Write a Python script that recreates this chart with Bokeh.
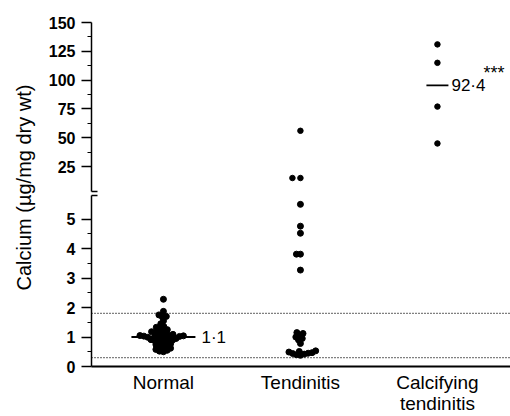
import math
from bokeh.plotting import figure
from bokeh.models import Range1d, FixedTicker, LinearAxis, Span
from bokeh.layouts import row, column
from bokeh.embed import file_html
from bokeh.resources import INLINE
from bokeh.core.properties import value

# ---------------- data ----------------
categories = ["Normal", "Tendinitis", "Calcifying\ntendinitis"]
normal_values = [2.28, 1.87, 1.75, 1.70, 1.68, 1.55, 1.45, 1.36, 1.33, 1.30,
                 1.25, 1.22, 1.18, 1.15, 1.13, 1.11, 1.09, 1.07, 1.05, 1.04,
                 1.03, 1.02, 1.01, 1.00, 0.99, 0.98, 0.97, 0.95, 0.93, 0.91,
                 0.89, 0.87, 0.85, 0.83, 0.80, 0.77, 0.74, 0.71, 0.68, 0.65,
                 0.62, 0.58, 0.55, 0.52, 0.50]
tendinitis_values = [56, 15, 15, 5.5, 4.76, 4.52, 3.81, 3.81, 3.27,
                     1.15, 1.12, 1.05, 1.00, 0.95, 0.90, 0.78,
                     0.38, 0.40, 0.42, 0.44, 0.45, 0.47, 0.49, 0.51, 0.53]
calcifying_values = [131, 115, 77, 45]
group_values = [normal_values, tendinitis_values, calcifying_values]
line_values = [1.0, None, 95.5]
line_labels = ["1·1", "", "92·4"]
significance = ["", "", "***"]
reference_limits = [0.3, 1.8]
lower_ticks = [0, 1, 2, 3, 4, 5]
lower_minor = [0.5, 1.5, 2.5, 3.5, 4.5]
upper_ticks = [25, 50, 75, 100, 125, 150]
upper_minor = [37.5, 62.5, 87.5, 112.5, 137.5]
y_label = "Calcium (µg/mg dry wt)"

# ---------------- layout constants ----------------
FONT = "Liberation Sans"
LOW_RANGE = (0, 5.8)
UP_RANGE = (3.3, 150)
LABEL_W = 38
MAIN_W = 472
TOTAL_H = 416
LEFT = 53
TOP_MARGIN = 22
TOP_FRAME = 169
LOW_FRAME = 171
LABEL_PANEL = 50
X_RANGE = (-0.525, -0.525 + (MAIN_W - LEFT) / 137.0)
low_ppu = LOW_FRAME / (LOW_RANGE[1] - LOW_RANGE[0])
up_ppu = TOP_FRAME / (UP_RANGE[1] - UP_RANGE[0])
x_ppu = (MAIN_W - LEFT) / (X_RANGE[1] - X_RANGE[0])
DOT = 6.0
GAP = 4.0  # collision distance for the swarm (dots overlap like the scan)


def swarm(vals, ppu, d=GAP):
    order = sorted(range(len(vals)), key=lambda i: vals[i])
    placed = []
    xs = [0.0] * len(vals)
    for i in order:
        y = vals[i] * ppu
        cands = [0.0]
        for px, py in placed:
            dy = abs(py - y)
            if dy < d:
                dx = math.sqrt(d * d - dy * dy)
                cands += [px + dx, px - dx]
        cands.sort(key=lambda c: (abs(c), c))
        for c in cands:
            if all((c - px) ** 2 + (y - py) ** 2 >= d * d - 1e-6 for px, py in placed):
                xs[i] = c
                placed.append((c, y))
                break
    return xs


def style_common(p):
    p.outline_line_color = None
    p.xgrid.visible = False
    p.ygrid.visible = False
    p.background_fill_color = "white"
    p.border_fill_color = "white"


def style_yaxis(ax, ticks, minor):
    ax.ticker = FixedTicker(ticks=ticks, minor_ticks=minor)
    ax.axis_line_color = "black"
    ax.axis_line_width = 1.5
    ax.major_tick_line_color = "black"
    ax.major_tick_line_width = 1.5
    ax.major_tick_out = 10
    ax.major_tick_in = 0
    ax.minor_tick_line_color = "black"
    ax.minor_tick_line_width = 1.2
    ax.minor_tick_out = 4
    ax.minor_tick_in = 0
    ax.major_label_standoff = 6
    ax.major_label_text_font = FONT
    ax.major_label_text_font_size = "16px"
    ax.major_label_text_font_style = "bold"
    ax.major_label_text_color = "black"


def break_axis(p, side):
    ax = LinearAxis(ticker=FixedTicker(ticks=[]), bounds=(-0.569, -0.481))
    ax.axis_line_color = "black"
    ax.axis_line_width = 1.5
    ax.major_tick_out = 0
    ax.major_tick_in = 0
    ax.minor_tick_out = 0
    ax.minor_tick_in = 0
    ax.major_label_standoff = 0
    ax.axis_label_standoff = 0
    p.add_layout(ax, side)


# ---------------- top (upper segment) ----------------
top_h = TOP_MARGIN + TOP_FRAME + 2
top = figure(width=MAIN_W, height=top_h, output_backend="svg",
             toolbar_location=None, x_range=Range1d(*X_RANGE),
             y_range=Range1d(*UP_RANGE), x_axis_location=None,
             min_border_left=LEFT, min_border_right=0, min_border_top=TOP_MARGIN,
             min_border_bottom=2)
style_common(top)
style_yaxis(top.yaxis[0], upper_ticks, upper_minor)
break_axis(top, "below")

# ---------------- bottom (lower segment) ----------------
bot = figure(width=MAIN_W, height=TOTAL_H - top_h, output_backend="svg",
             toolbar_location=None, x_range=Range1d(*X_RANGE),
             y_range=Range1d(*LOW_RANGE), x_axis_location=None,
             min_border_left=LEFT, min_border_right=0, min_border_top=2,
             min_border_bottom=LABEL_PANEL)
style_common(bot)
style_yaxis(bot.yaxis[0], lower_ticks, lower_minor)
break_axis(bot, "above")
xa = LinearAxis(ticker=FixedTicker(ticks=[0, 1, 2]))
xa.major_label_overrides = {i: c for i, c in enumerate(categories)}
xa.axis_line_color = "black"
xa.axis_line_width = 2
xa.major_tick_out = 0
xa.major_tick_in = 0
xa.minor_tick_out = 0
xa.minor_tick_in = 0
xa.major_label_standoff = 5
xa.major_label_text_font = FONT
xa.major_label_text_font_size = "19px"
xa.major_label_text_line_height = 1.0
xa.major_label_text_color = "black"
bot.add_layout(xa, "below")

for lim in reference_limits:
    bot.add_layout(Span(location=lim, dimension="width", line_color="black",
                        line_width=1.3, line_dash="1 2"))

# ---------------- points ----------------
for gi, vals in enumerate(group_values):
    low = [v for v in vals if v < LOW_RANGE[1]]
    up = [v for v in vals if v >= LOW_RANGE[1]]
    if low:
        off = swarm(low, low_ppu)
        bot.scatter(x=[gi + o / x_ppu for o in off], y=low, size=DOT,
                    color="black", line_color="black")
    if up:
        off = swarm(up, up_ppu, d=8)
        top.scatter(x=[gi + o / x_ppu for o in off], y=up, size=DOT - 0.5,
                    color="black", line_color="black")

# ---------------- summary lines and labels ----------------
half_widths = [32, 0, 11]
label_offsets = [38, 0, 14]
for gi, lv in enumerate(line_values):
    if lv is None:
        continue
    p = bot if lv < LOW_RANGE[1] else top
    hw = half_widths[gi] / x_ppu
    p.segment(x0=[gi - hw], y0=[lv], x1=[gi + hw], y1=[lv],
              line_color="black", line_width=1.8)
    p.text(x=[gi], y=[lv], text=[line_labels[gi]], x_offset=label_offsets[gi],
           text_baseline="middle", text_align="left", text_color="black",
           text_font=value(FONT), text_font_size="17px")
    if significance[gi]:
        p.text(x=[gi], y=[lv], text=[significance[gi]], x_offset=label_offsets[gi] + 32,
               y_offset=-12, text_baseline="middle", text_align="left",
               text_color="black", text_font=value(FONT), text_font_size="18px")

# ---------------- y label panel ----------------
lab = figure(width=LABEL_W, height=TOTAL_H, output_backend="svg", toolbar_location=None,
             x_range=Range1d(0, LABEL_W), y_range=Range1d(0, TOTAL_H),
             x_axis_location=None, y_axis_location=None, min_border=0)
style_common(lab)
lab.text(x=[23], y=[TOTAL_H - 187], text=[y_label], angle=math.pi / 2,
         text_align="center", text_baseline="middle", text_color="black",
         text_font=value(FONT), text_font_size="20px")

layout = row(lab, column(top, bot, spacing=0), spacing=0)
open("out.html", "w").write(file_html(layout, INLINE))
